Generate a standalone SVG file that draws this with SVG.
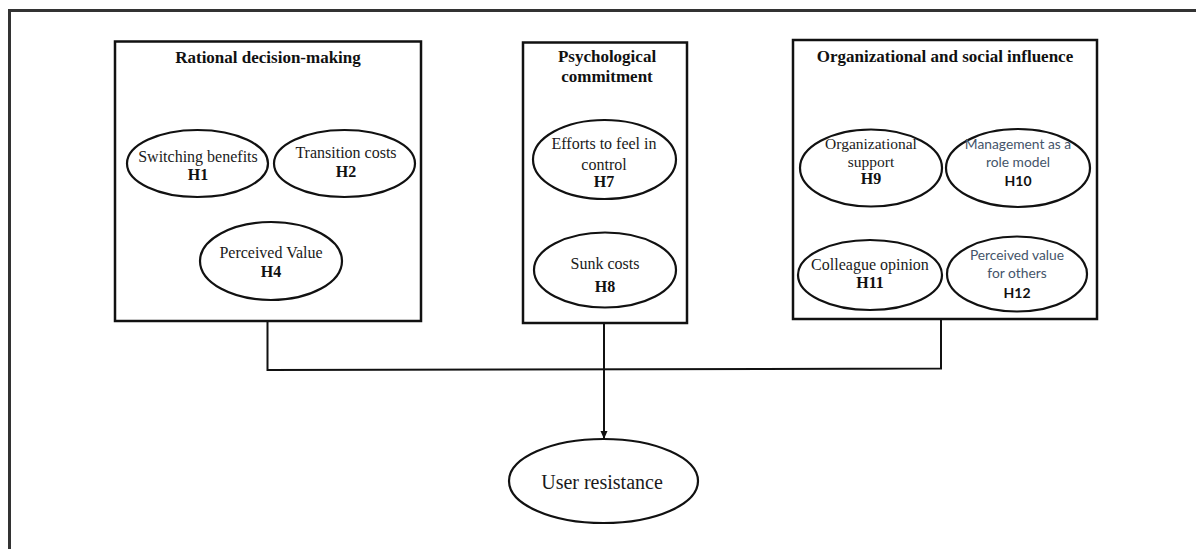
<svg xmlns="http://www.w3.org/2000/svg" width="1196" height="549" viewBox="0 0 1196 549">
  <style>
    .frame { fill: none; stroke: #333; stroke-width: 3; }
    .box { fill: #fff; stroke: #111; stroke-width: 2.5; }
    .oval { fill: #fff; stroke: #111; stroke-width: 2.2; }
    .wire { fill: none; stroke: #111; stroke-width: 2; }
    .title { font-family: "Liberation Serif", "Times New Roman", serif; font-weight: bold; font-size: 17px; fill: #111; text-anchor: middle; }
    .lbl { font-family: "Liberation Serif", "Times New Roman", serif; font-size: 16px; fill: #1a1a1a; text-anchor: middle; }
    .hyp { font-family: "Liberation Serif", "Times New Roman", serif; font-weight: bold; font-size: 16px; fill: #111; text-anchor: middle; }
    .slbl { font-family: Lato, "Liberation Sans", Arial, sans-serif; font-size: 13.8px; fill: #44546a; text-anchor: middle; }
    .shyp { font-family: Lato, "Liberation Sans", Arial, sans-serif; font-weight: bold; font-size: 14px; fill: #111; text-anchor: middle; }
    .big { font-family: "Liberation Serif", "Times New Roman", serif; font-size: 20px; fill: #1a1a1a; text-anchor: middle; }
  </style>
  <defs>
    <marker id="arrow" markerWidth="8" markerHeight="8" refX="7" refY="4" orient="auto" markerUnits="userSpaceOnUse">
      <path d="M0,0.5 L8,4 L0,7.5 Z" fill="#111"/>
    </marker>
  </defs>

  <rect width="1196" height="549" fill="#fff"/>
  <!-- outer frame (only top and left edges fall inside the canvas) -->
  <path class="frame" d="M9.5,560 V10.5 H1210"/>

  <!-- connectors -->
  <g id="connectors">
    <path class="wire" d="M267.5,321 V370 L941,368.5 V319"/>
    <path class="wire" d="M604,323.5 V438" marker-end="url(#arrow)"/>
  </g>

  <!-- Rational decision-making -->
  <g id="rational">
    <rect class="box" x="115" y="41.5" width="306" height="279.5"/>
    <text class="title" x="268" y="63">Rational decision-making</text>
    <g id="h1">
      <ellipse class="oval" cx="197.5" cy="163.5" rx="70.5" ry="33.5"/>
      <text class="lbl" x="198" y="161.5">Switching benefits</text>
      <text class="hyp" x="198" y="180">H1</text>
    </g>
    <g id="h2">
      <ellipse class="oval" cx="344.5" cy="163.5" rx="70.5" ry="33.5"/>
      <text class="lbl" x="346" y="158">Transition costs</text>
      <text class="hyp" x="346" y="177">H2</text>
    </g>
    <g id="h4">
      <ellipse class="oval" cx="271" cy="261" rx="71" ry="39"/>
      <text class="lbl" x="271" y="258">Perceived Value</text>
      <text class="hyp" x="271" y="277">H4</text>
    </g>
  </g>

  <!-- Psychological commitment -->
  <g id="psychological">
    <rect class="box" x="523" y="42.5" width="164" height="280.5"/>
    <text class="title" x="607" y="61.5">Psychological</text>
    <text class="title" x="607" y="81.5">commitment</text>
    <g id="h7">
      <ellipse class="oval" cx="604.5" cy="159.5" rx="71.5" ry="39.5"/>
      <text class="lbl" x="604" y="149">Efforts to feel in</text>
      <text class="lbl" x="604" y="170">control</text>
      <text class="hyp" x="604" y="187">H7</text>
    </g>
    <g id="h8">
      <ellipse class="oval" cx="605" cy="270" rx="71" ry="37.5"/>
      <text class="lbl" x="605" y="269">Sunk costs</text>
      <text class="hyp" x="605" y="291.5">H8</text>
    </g>
  </g>

  <!-- Organizational and social influence -->
  <g id="organizational">
    <rect class="box" x="793" y="40" width="304" height="279"/>
    <text class="title" x="945" y="62">Organizational and social influence</text>
    <g id="h9">
      <ellipse class="oval" cx="871" cy="168" rx="71" ry="38.5"/>
      <text class="lbl" x="871" y="149" style="font-size:15.5px">Organizational</text>
      <text class="lbl" x="871" y="166.5" style="font-size:15.5px">support</text>
      <text class="hyp" x="871" y="183.5">H9</text>
    </g>
    <g id="h10">
      <ellipse class="oval" cx="1018" cy="168" rx="72" ry="39"/>
      <text class="slbl" x="1018" y="149">Management as a</text>
      <text class="slbl" x="1018" y="166.5">role model</text>
      <text class="shyp" x="1018" y="186">H10</text>
    </g>
    <g id="h11">
      <ellipse class="oval" cx="870" cy="275" rx="72" ry="35"/>
      <text class="lbl" x="870" y="270">Colleague opinion</text>
      <text class="hyp" x="870" y="288">H11</text>
    </g>
    <g id="h12">
      <ellipse class="oval" cx="1017" cy="274" rx="70" ry="37.5"/>
      <text class="slbl" x="1017" y="260">Perceived value</text>
      <text class="slbl" x="1017" y="278">for others</text>
      <text class="shyp" x="1017" y="298">H12</text>
    </g>
  </g>

  <!-- outcome -->
  <g id="user-resistance">
    <ellipse class="oval" cx="603.5" cy="481" rx="94.5" ry="42"/>
    <text class="big" x="602" y="489">User resistance</text>
  </g>
</svg>
